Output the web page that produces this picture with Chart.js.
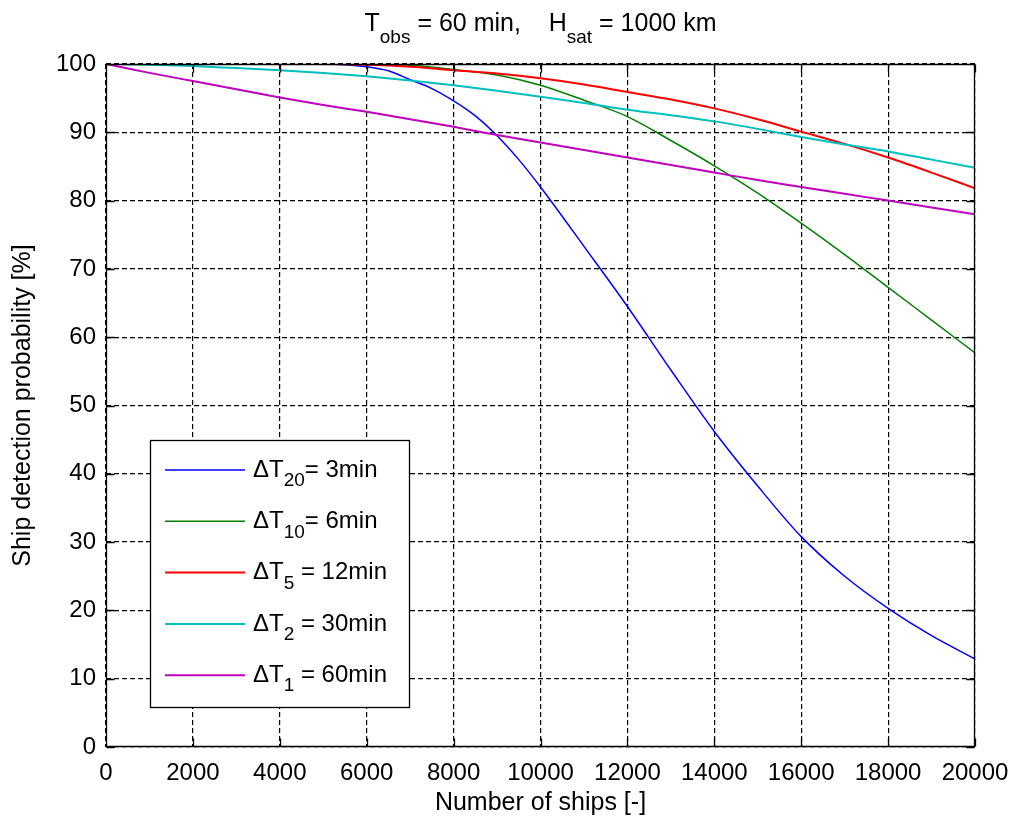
<!DOCTYPE html>
<html>
<head>
<meta charset="utf-8">
<title>Ship detection probability</title>
<script src="https://cdn.jsdelivr.net/npm/chart.js@4.4.1/dist/chart.umd.min.js"></script>
<style>
  html, body { margin: 0; padding: 0; background: #fff; }
  #wrap { width: 1011px; height: 823px; position: relative; }
</style>
</head>
<body>
<div id="wrap"><canvas id="chart"></canvas></div>
<script>
// x values (number of ships)
const ships = [0, 1000, 2000, 3000, 4000, 5000, 6000, 7000, 8000, 9000, 10000,
  11000, 12000, 13000, 14000, 15000, 16000, 17000, 18000, 19000, 20000];
// blue curve needs more points around the knee
const shipsFine = [0, 1000, 2000, 3000, 4000, 5000, 5500, 6000, 6500, 7000, 7500,
  8000, 8500, 9000, 9500, 10000, 11000, 12000, 13000, 14000, 15000, 16000,
  17000, 18000, 19000, 20000];

// detection probability [%]
const dt20 = [100, 100, 100, 100, 100, 100, 99.9, 99.6, 99.0, 97.7, 96.4,
  94.6, 92.4, 89.5, 86.0, 82.0, 73.3, 64.5, 55.2, 46.2, 38.2, 30.8,
  25.0, 20.3, 16.3, 12.9];
const dt10 = [100, 100, 100, 100, 100, 100, 100, 99.8, 99.2, 98.4, 96.9,
  94.7, 92.3, 88.8, 85.1, 81.1, 76.7, 72.1, 67.3, 62.5, 57.7];
const dt5 = [100, 100, 100, 100, 100, 100, 99.9, 99.6, 99.1, 98.6, 97.9,
  97.0, 95.9, 94.8, 93.5, 91.9, 90.1, 88.3, 86.3, 84.1, 81.8];
const dt2 = [100, 99.9, 99.7, 99.4, 99.1, 98.7, 98.2, 97.6, 96.9, 96.1, 95.2,
  94.3, 93.3, 92.5, 91.6, 90.5, 89.3, 88.2, 87.2, 86.0, 84.8];
const dt1 = [100, 98.7, 97.5, 96.3, 95.1, 94.0, 93.0, 91.9, 90.8, 89.6, 88.5,
  87.4, 86.3, 85.2, 84.1, 83.0, 82.0, 81.0, 80.0, 79.0, 78.0];

// legend text: "ΔT" + subscript + rest
const legendSubs = ['20', '10', '5', '2', '1'];
const legendRest = ['= 3min', '= 6min', ' = 12min', ' = 30min', ' = 60min'];

// title pieces, [text, isSubscript]
const titleParts = [['T', false], ['obs', true], [' = 60 min,    ', false],
  ['H', false], ['sat', true], [' = 1000 km', false]];

const xTitle = 'Number of ships [-]';
const yTitle = 'Ship detection probability [%]';

const colors = ['#0000ff', '#008000', '#ff0000', '#00bfbf', '#bf00bf'];
const FONT = '"Liberation Sans", Arial, Helvetica, sans-serif';

function pts(xs, ys) {
  return xs.map((x, i) => ({ x: x, y: ys[i] }));
}

const series = [
  pts(shipsFine, dt20),
  pts(ships, dt10),
  pts(ships, dt5),
  pts(ships, dt2),
  pts(ships, dt1)
];

// frame with inward tick marks, like matlab axes
const framePlugin = {
  id: 'frame',
  afterDraw(chart) {
    const { ctx, chartArea: a, scales } = chart;
    ctx.save();
    ctx.strokeStyle = '#000';
    ctx.lineWidth = 1.3;
    ctx.beginPath();
    const L = Math.round(a.left) + 0.5, R = Math.round(a.right) - 0.5;
    const T = Math.round(a.top) + 0.5, B = Math.round(a.bottom) - 0.5;
    ctx.rect(L, T, R - L, B - T);
    const tk = 8;
    scales.x.ticks.forEach(t => {
      const px = Math.round(scales.x.getPixelForValue(t.value)) + 0.5;
      ctx.moveTo(px, B); ctx.lineTo(px, B - tk);
      ctx.moveTo(px, T); ctx.lineTo(px, T + tk);
    });
    scales.y.ticks.forEach(t => {
      const py = Math.round(scales.y.getPixelForValue(t.value)) + 0.5;
      ctx.moveTo(L, py); ctx.lineTo(L + tk, py);
      ctx.moveTo(R, py); ctx.lineTo(R - tk, py);
    });
    ctx.stroke();
    ctx.restore();
  }
};

// title with subscripts
const titlePlugin = {
  id: 'subTitle',
  afterDraw(chart) {
    const { ctx, chartArea: a } = chart;
    const main = '25px ' + FONT, sub = '19px ' + FONT;
    ctx.save();
    ctx.fillStyle = '#000';
    ctx.textBaseline = 'alphabetic';
    let w = 0;
    titleParts.forEach(p => { ctx.font = p[1] ? sub : main; w += ctx.measureText(p[0]).width; });
    let x = (a.left + a.right) / 2 - w / 2;
    titleParts.forEach(p => {
      ctx.font = p[1] ? sub : main;
      ctx.fillText(p[0], x, p[1] ? 43 : 31);
      x += ctx.measureText(p[0]).width;
    });
    ctx.restore();
  }
};

// boxed legend, bottom left
const legendPlugin = {
  id: 'boxLegend',
  afterDraw(chart) {
    const { ctx, chartArea: a } = chart;
    const bx = a.left + 44, by = a.bottom - 307, bw = 259, bh = 267;
    ctx.save();
    ctx.fillStyle = '#fff';
    ctx.fillRect(bx, by, bw, bh);
    ctx.strokeStyle = '#000';
    ctx.lineWidth = 1.3;
    ctx.strokeRect(Math.round(bx) + 0.5, Math.round(by) + 0.5, bw, bh);
    const main = '24px ' + FONT, sub = '19px ' + FONT;
    legendSubs.forEach((s, i) => {
      const ly = by + 30 + i * 51.3;
      const ds = chart.data.datasets[i];
      ctx.strokeStyle = ds.borderColor;
      ctx.lineWidth = ds.borderWidth;
      ctx.beginPath();
      ctx.moveTo(bx + 15, ly);
      ctx.lineTo(bx + 95, ly);
      ctx.stroke();
      ctx.fillStyle = '#000';
      ctx.textBaseline = 'middle';
      let x = bx + 103;
      ctx.font = main;
      ctx.fillText('\u0394T', x, ly);
      x += ctx.measureText('\u0394T').width;
      ctx.font = sub;
      ctx.fillText(s, x, ly + 11);
      x += ctx.measureText(s).width;
      ctx.font = main;
      ctx.fillText(legendRest[i], x, ly);
    });
    ctx.restore();
  }
};

const widths = [1.5, 1.5, 2, 2, 2];

new Chart(document.getElementById('chart'), {
  type: 'line',
  data: {
    datasets: series.map((d, i) => ({
      label: '\u0394T' + legendSubs[i] + legendRest[i],
      data: d,
      borderColor: colors[i],
      backgroundColor: colors[i],
      borderWidth: widths[i],
      pointRadius: 0,
      cubicInterpolationMode: 'monotone',
      fill: false,
      order: 5 - i
    }))
  },
  options: {
    responsive: true,
    maintainAspectRatio: false,
    animation: false,
    layout: { padding: { top: 64, right: 36, left: 0, bottom: 0 } },
    plugins: {
      legend: { display: false },
      title: { display: false },
      tooltip: { enabled: false }
    },
    scales: {
      x: {
        type: 'linear',
        min: 0,
        max: 20000,
        ticks: {
          stepSize: 2000,
          color: '#000',
          padding: 12,
          maxRotation: 0,
          font: { family: FONT, size: 24 },
          callback: v => String(v)
        },
        grid: { color: '#000', lineWidth: 1.2, drawTicks: false },
        border: { display: false, dash: [5, 3] },
        title: {
          display: true,
          text: xTitle,
          color: '#000',
          font: { family: FONT, size: 25 },
          padding: { top: 0, bottom: 5 }
        },
        afterFit(scale) {
          scale.height = 76;
          scale.paddingLeft = 0;
          scale.paddingRight = 0;
        }
      },
      y: {
        min: 0,
        max: 100,
        ticks: {
          stepSize: 10,
          color: '#000',
          padding: 10,
          font: { family: FONT, size: 24 }
        },
        grid: { color: '#000', lineWidth: 1.2, drawTicks: false },
        border: { display: false, dash: [5, 3] },
        title: {
          display: true,
          text: yTitle,
          color: '#000',
          font: { family: FONT, size: 25 },
          padding: { top: 8, bottom: 0 }
        },
        afterFit(scale) {
          scale.width = 106;
          scale.paddingTop = 0;
          scale.paddingBottom = 0;
        }
      }
    }
  },
  plugins: [framePlugin, titlePlugin, legendPlugin]
});
</script>
</body>
</html>
